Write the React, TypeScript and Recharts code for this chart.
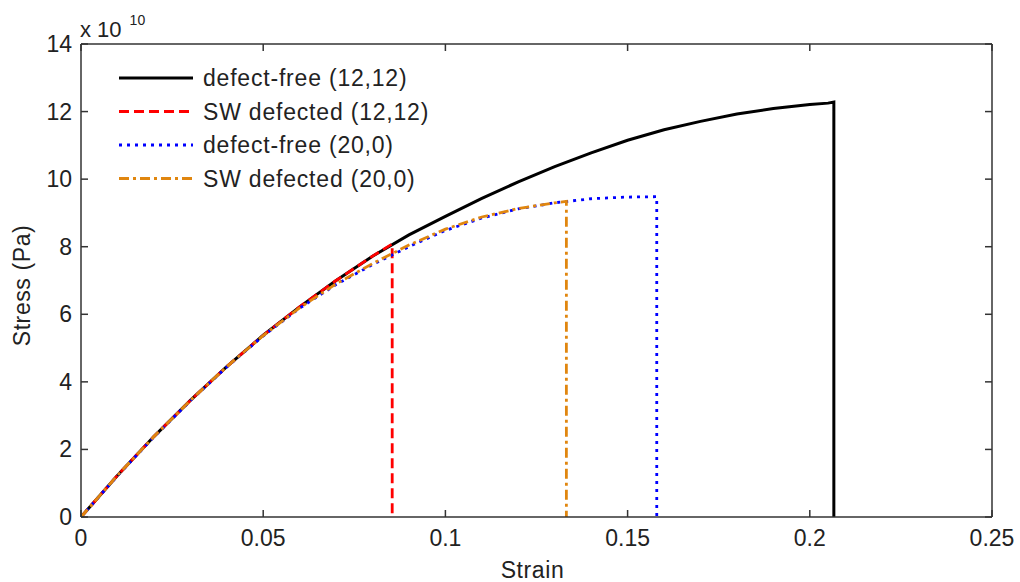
import React from "react";
import { LineChart, Line, XAxis, YAxis, Legend } from "recharts";

// strain / stress (x 1e10 Pa)
const strainDF1212 = [0, 0.01, 0.02, 0.03, 0.04, 0.05, 0.06, 0.07, 0.08, 0.09, 0.1, 0.11, 0.12, 0.13, 0.14, 0.15, 0.16, 0.17, 0.18, 0.19, 0.2, 0.205, 0.2066, 0.2066];
const stressDF1212 = [0, 1.23, 2.38, 3.45, 4.45, 5.38, 6.22, 7.0, 7.72, 8.35, 8.9, 9.43, 9.92, 10.37, 10.78, 11.15, 11.46, 11.71, 11.93, 12.09, 12.21, 12.25, 12.28, 0];

const strainSW1212 = [0, 0.01, 0.02, 0.03, 0.04, 0.05, 0.06, 0.07, 0.08, 0.0854, 0.0854];
const stressSW1212 = [0, 1.23, 2.38, 3.45, 4.45, 5.38, 6.22, 7.0, 7.72, 8.08, 0];

const strainDF200 = [0, 0.01, 0.02, 0.03, 0.04, 0.05, 0.06, 0.07, 0.08, 0.09, 0.1, 0.11, 0.12, 0.13, 0.14, 0.15, 0.158, 0.158];
const stressDF200 = [0, 1.22, 2.37, 3.44, 4.44, 5.36, 6.18, 6.88, 7.47, 8.0, 8.48, 8.85, 9.12, 9.3, 9.42, 9.47, 9.48, 0];

const strainSW200 = [0, 0.01, 0.02, 0.03, 0.04, 0.05, 0.06, 0.07, 0.08, 0.09, 0.1, 0.11, 0.12, 0.13, 0.1332, 0.1332];
const stressSW200 = [0, 1.23, 2.38, 3.45, 4.45, 5.37, 6.19, 6.9, 7.5, 8.05, 8.52, 8.88, 9.13, 9.3, 9.34, 0];

const xTicks = [0, 0.05, 0.1, 0.15, 0.2, 0.25];
const yTicks = [0, 2, 4, 6, 8, 10, 12, 14];

const zip = (xs: number[], ys: number[]) => xs.map((x, i) => ({ strain: x, stress: ys[i] }));

const series = [
  { name: "defect-free (12,12)", data: zip(strainDF1212, stressDF1212), color: "#000000", dash: undefined, width: 3 },
  { name: "SW defected (12,12)", data: zip(strainSW1212, stressSW1212), color: "#ff0000", dash: "10 5", width: 2.8 },
  { name: "defect-free (20,0)", data: zip(strainDF200, stressDF200), color: "#0000ff", dash: "3 5", width: 2.8 },
  { name: "SW defected (20,0)", data: zip(strainSW200, stressSW200), color: "#e0860f", dash: "10 4 3 4", width: 2.8 },
];

const FONT = '"Liberation Sans", Arial, sans-serif';
const TEXT = "#222";
const AXIS = "#333";

const BottomTick = ({ x, y, payload }: any) => (
  <g>
    <line x1={x} x2={x} y1={y} y2={y - 7} stroke={AXIS} strokeWidth={1.5} />
    <text x={x} y={y + 29} textAnchor="middle" fontSize={23} fontFamily={FONT} fill={TEXT}>
      {String(payload.value)}
    </text>
  </g>
);

const TopTick = ({ x, y }: any) => <line x1={x} x2={x} y1={y} y2={y + 7} stroke={AXIS} strokeWidth={1.5} />;

const LeftTick = ({ x, y, payload }: any) => (
  <g>
    <line x1={x} x2={x + 7} y1={y} y2={y} stroke={AXIS} strokeWidth={1.5} />
    <text x={x - 9} y={y + 8} textAnchor="end" fontSize={23} fontFamily={FONT} fill={TEXT}>
      {String(payload.value)}
    </text>
  </g>
);

const RightTick = ({ x, y }: any) => <line x1={x} x2={x - 7} y1={y} y2={y} stroke={AXIS} strokeWidth={1.5} />;

const renderLegend = () => (
  <svg width={340} height={140}>
    {series.map((s, i) => {
      const cy = 18 + i * 33.5;
      return (
        <g key={s.name}>
          <line x1={7} x2={81} y1={cy} y2={cy} stroke={s.color} strokeWidth={s.width} strokeDasharray={s.dash} />
          <text x={91} y={cy + 8} fontSize={23} letterSpacing={0.8} fontFamily={FONT} fill={TEXT}>
            {s.name}
          </text>
        </g>
      );
    })}
  </svg>
);

export default function App() {
  return (
    <div style={{ position: "absolute", left: 0, top: 0, width: 1020, height: 582, background: "#fff" }}>
      <LineChart width={1020} height={582} margin={{ top: 0, right: 0, bottom: 0, left: 0 }}>
        <XAxis
          dataKey="strain"
          type="number"
          domain={[0, 0.25]}
          ticks={xTicks}
          allowDataOverflow
          height={65}
          tickSize={0}
          tickMargin={0}
          tickLine={false}
          tick={<BottomTick />}
          axisLine={{ stroke: AXIS, strokeWidth: 1.5 }}
          label={{
            content: ({ viewBox }: any) => (
              <text x={viewBox.x + viewBox.width / 2 - 4} y={578} textAnchor="middle" fontSize={23} letterSpacing={0.6} fontFamily={FONT} fill={TEXT}>
                Strain
              </text>
            ),
          }}
        />
        <XAxis
          xAxisId="top"
          orientation="top"
          dataKey="strain"
          type="number"
          domain={[0, 0.25]}
          ticks={xTicks}
          allowDataOverflow
          height={44}
          tickSize={0}
          tickMargin={0}
          tickLine={false}
          tick={<TopTick />}
          axisLine={{ stroke: AXIS, strokeWidth: 1.5 }}
        />
        <YAxis
          dataKey="stress"
          type="number"
          domain={[0, 14]}
          ticks={yTicks}
          allowDataOverflow
          width={81}
          tickSize={0}
          tickMargin={0}
          tickLine={false}
          tick={<LeftTick />}
          axisLine={{ stroke: AXIS, strokeWidth: 1.5 }}
          label={{
            content: ({ viewBox }: any) => (
              <text
                transform={`translate(${viewBox.x + 22},${viewBox.y + viewBox.height / 2 + 5}) rotate(-90)`}
                textAnchor="middle"
                dominantBaseline="central"
                fontSize={23}
                letterSpacing={0.6}
                fontFamily={FONT}
                fill={TEXT}
              >
                Stress (Pa)
              </text>
            ),
          }}
        />
        <YAxis
          yAxisId="right"
          orientation="right"
          type="number"
          domain={[0, 14]}
          ticks={yTicks}
          allowDataOverflow
          width={28}
          tickSize={0}
          tickMargin={0}
          tickLine={false}
          tick={<RightTick />}
          axisLine={{ stroke: AXIS, strokeWidth: 1.5 }}
        />
        <Legend
          layout="vertical"
          align="center"
          verticalAlign="middle"
          content={renderLegend}
          wrapperStyle={{ left: 112, top: 60, width: 340, height: 140 }}
        />
        {series.map((s) => (
          <Line
            key={s.name}
            name={s.name}
            data={s.data}
            dataKey="stress"
            type="linear"
            stroke={s.color}
            strokeWidth={s.width}
            strokeDasharray={s.dash}
            dot={false}
            activeDot={false}
            isAnimationActive={false}
          />
        ))}
      </LineChart>
      <div style={{ position: "absolute", left: 80, top: 10, fontFamily: FONT, color: TEXT, fontSize: 22, lineHeight: "28px", whiteSpace: "nowrap" }}>
        x 10<sup style={{ fontSize: 14, position: "relative", top: -4, marginLeft: 8 }}>10</sup>
      </div>
    </div>
  );
}
